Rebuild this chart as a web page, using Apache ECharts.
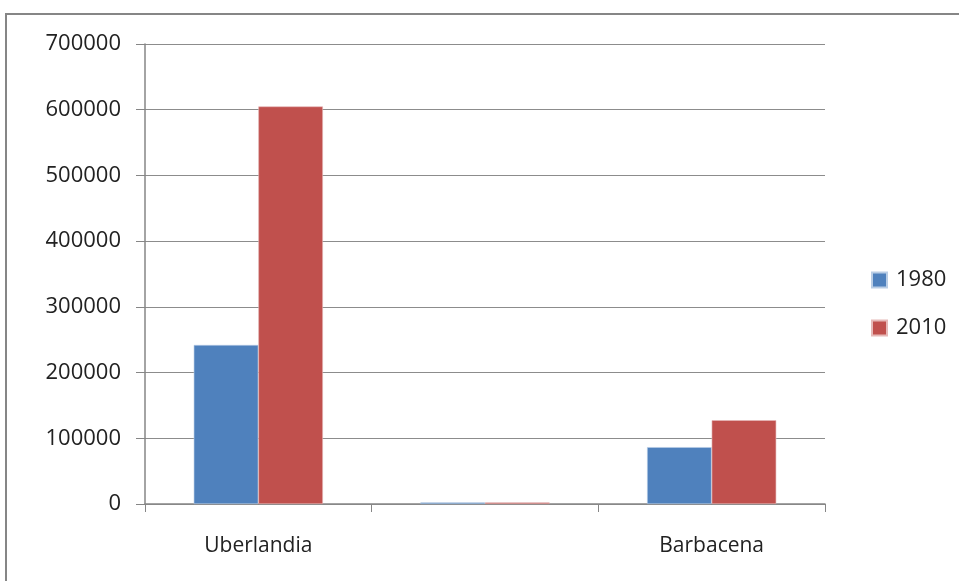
<!DOCTYPE html>
<html>
<head>
<meta charset="utf-8">
<script src="https://cdn.jsdelivr.net/npm/echarts@6/dist/echarts.min.js"></script>
<style>
  html, body { margin: 0; padding: 0; background: #fff; }
  #chart { width: 959px; height: 581px; }
</style>
</head>
<body>
<div id="chart"></div>
<script>
// categories and values
const cities = ["Uberlandia", "", "Barbacena"];
const pop1980 = [242000, 2500, 86500];
const pop2010 = [605000, 2500, 127500];
const yTicks = [0, 100000, 200000, 300000, 400000, 500000, 600000, 700000];

const chart = echarts.init(document.getElementById("chart"));
const textFont = "Open Sans";

chart.setOption({
  animation: false,
  backgroundColor: "#fff",
  graphic: [
    {
      type: "rect",
      shape: { x: 6, y: 14, width: 1000, height: 700 },
      style: { fill: "none", stroke: "#868686", lineWidth: 2 }
    }
  ],
  grid: { left: 145, right: 134, top: 44, bottom: 77 },
  legend: {
    orient: "vertical",
    left: 866,
    top: 264,
    itemWidth: 15,
    itemHeight: 15,
    itemGap: 26,
    icon: "rect",
    textStyle: { fontFamily: textFont, fontSize: 22, color: "#222", padding: [0, 0, 0, 4] },
    data: ["1980", "2010"]
  },
  xAxis: {
    type: "category",
    data: cities,
    axisLine: { lineStyle: { color: "#868686", width: 1.5 } },
    axisTick: { show: true, length: 8, lineStyle: { color: "#868686" } },
    axisLabel: { fontFamily: textFont, fontSize: 21, color: "#222", margin: 32 }
  },
  yAxis: {
    type: "value",
    min: yTicks[0],
    max: yTicks[yTicks.length - 1],
    interval: 100000,
    axisLine: { show: true, lineStyle: { color: "#868686", width: 1.5 } },
    axisTick: { show: true, length: 9, lineStyle: { color: "#868686" } },
    splitLine: { lineStyle: { color: "#8c8c8c", width: 1.2 } },
    axisLabel: {
      fontFamily: textFont, fontSize: 22, color: "#222", margin: 24,
      formatter: (v) => String(v)
    }
  },
  series: [
    {
      name: "1980",
      type: "bar",
      data: pop1980,
      barGap: "0%",
      barCategoryGap: "43%",
      itemStyle: { color: "#4f81bd", borderColor: "#b9cde5", borderWidth: 0.6 }
    },
    {
      name: "2010",
      type: "bar",
      data: pop2010,
      itemStyle: { color: "#c0504d", borderColor: "#e6b9b8", borderWidth: 0.6 }
    }
  ]
});
</script>
</body>
</html>
